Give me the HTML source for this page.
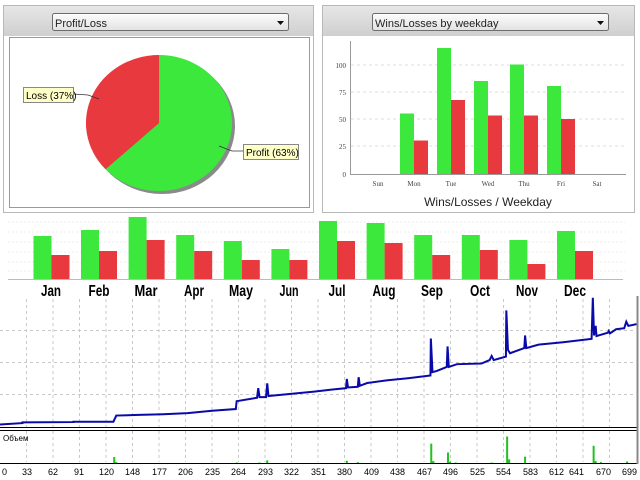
<!DOCTYPE html>
<html><head><style>
html,body{margin:0;padding:0;background:#fff;}
svg{display:block;font-family:"Liberation Sans",sans-serif;}
</style></head><body>
<svg width="640" height="480" viewBox="0 0 640 480" xmlns="http://www.w3.org/2000/svg">
<defs>
<linearGradient id="hd" x1="0" y1="0" x2="0" y2="1"><stop offset="0" stop-color="#e6e6e6"/><stop offset="1" stop-color="#cfcfcf"/></linearGradient>
<linearGradient id="dd" x1="0" y1="0" x2="0" y2="1"><stop offset="0" stop-color="#fdfdfd"/><stop offset="1" stop-color="#e2e2e2"/></linearGradient>
</defs>
<rect x="3.5" y="5.5" width="310" height="207" fill="#fff" stroke="#b8b8b8"/>
<rect x="4" y="6" width="309" height="30" fill="url(#hd)"/>
<rect x="52.5" y="13.5" width="236" height="17" rx="2" fill="url(#dd)" stroke="#6d6d6d"/>
<text x="55" y="27" font-size="11" fill="#222">Profit/Loss</text>
<path d="M277 21 h7 l-3.5 4z" fill="#111"/>
<rect x="9.5" y="37.5" width="300" height="170" fill="#fff" stroke="#9a9a9a"/>
<ellipse cx="162" cy="126" rx="73" ry="68" fill="#8a8a8a"/>
<path d="M159 123 L159 55 A73 68 0 1 1 105.5 169.3 Z" fill="#3de83d"/>
<path d="M159 123 L105.5 169.3 A73 68 0 0 1 159 55 Z" fill="#e8393e"/>
<path d="M73 94 L88 95 L99 99" stroke="#333" fill="none" stroke-width="0.8"/>
<path d="M219 146 L232 151 L243 151" stroke="#333" fill="none" stroke-width="0.8"/>
<rect x="23.5" y="87.5" width="50" height="15" fill="#ffffc8" stroke="#888"/>
<text x="26" y="99" font-size="10" fill="#000">Loss (37%)</text>
<rect x="243.5" y="144.5" width="55" height="15" fill="#ffffc8" stroke="#888"/>
<text x="246" y="156" font-size="10" fill="#000">Profit (63%)</text>
<rect x="322.5" y="5.5" width="312" height="207" fill="#fff" stroke="#b8b8b8"/>
<rect x="323" y="6" width="311" height="30" fill="url(#hd)"/>
<rect x="372.5" y="13.5" width="236" height="17" rx="2" fill="url(#dd)" stroke="#6d6d6d"/>
<text x="375" y="27" font-size="11" fill="#222">Wins/Losses by weekday</text>
<path d="M597 21 h7 l-3.5 4z" fill="#111"/>
<g stroke="#ddd" stroke-dasharray="3,3"><line x1="351" y1="65" x2="626" y2="65"/><line x1="351" y1="92" x2="626" y2="92"/><line x1="351" y1="119" x2="626" y2="119"/><line x1="351" y1="146" x2="626" y2="146"/></g>
<g font-family="Liberation Serif,serif" font-size="7" fill="#444" text-anchor="end"><text x="346" y="177">0</text><text x="346" y="149">25</text><text x="346" y="122">50</text><text x="346" y="95">75</text><text x="346" y="68">100</text></g>
<g fill="#3de83d"><rect x="400" y="113.5" width="14" height="60.5"/><rect x="437" y="48" width="14" height="126"/><rect x="474" y="81" width="14" height="93"/><rect x="510" y="64.5" width="14" height="109.5"/><rect x="547" y="86" width="14" height="88"/></g>
<g fill="#e8393e"><rect x="414" y="140.5" width="14" height="33.5"/><rect x="451" y="100" width="14" height="74"/><rect x="488" y="115.5" width="14" height="58.5"/><rect x="524" y="115.5" width="14" height="58.5"/><rect x="561" y="119" width="14" height="55"/></g>
<path d="M350.5 41 V174.5 H626" fill="none" stroke="#999"/>
<g font-family="Liberation Serif,serif" font-size="7" fill="#444" text-anchor="middle"><text x="378" y="186">Sun</text><text x="414" y="186">Mon</text><text x="451" y="186">Tue</text><text x="488" y="186">Wed</text><text x="524" y="186">Thu</text><text x="561" y="186">Fri</text><text x="597" y="186">Sat</text></g>
<text x="488" y="206" font-size="12" fill="#222" text-anchor="middle">Wins/Losses / Weekday</text>
<g stroke="#eee" stroke-dasharray="2,2"><line x1="8" y1="222" x2="625" y2="222"/><line x1="8" y1="232" x2="625" y2="232"/><line x1="8" y1="242" x2="625" y2="242"/><line x1="8" y1="252" x2="625" y2="252"/><line x1="8" y1="262" x2="625" y2="262"/><line x1="8" y1="271" x2="625" y2="271"/></g>
<g fill="#3de83d">
<rect x="33.5" y="236" width="18" height="43"/><rect x="81" y="230" width="18" height="49"/><rect x="128.6" y="217" width="18" height="62"/><rect x="176.2" y="235" width="18" height="44"/><rect x="223.8" y="241" width="18" height="38"/><rect x="271.4" y="249" width="18" height="30"/><rect x="319" y="221" width="18" height="58"/><rect x="366.6" y="223" width="18" height="56"/><rect x="414.2" y="235" width="18" height="44"/><rect x="461.8" y="235" width="18" height="44"/><rect x="509.4" y="240" width="18" height="39"/><rect x="557" y="231" width="18" height="48"/></g>
<g fill="#e8393e">
<rect x="51.5" y="255" width="18" height="24"/><rect x="99" y="251" width="18" height="28"/><rect x="146.6" y="240" width="18" height="39"/><rect x="194.2" y="251" width="18" height="28"/><rect x="241.8" y="260" width="18" height="19"/><rect x="289.4" y="260" width="18" height="19"/><rect x="337" y="241" width="18" height="38"/><rect x="384.6" y="243" width="18" height="36"/><rect x="432.2" y="255" width="18" height="24"/><rect x="479.8" y="250" width="18" height="29"/><rect x="527.4" y="264" width="18" height="15"/><rect x="575" y="251" width="18" height="28"/></g>
<line x1="8" y1="279.5" x2="623" y2="279.5" stroke="#bbb"/>
<g font-size="16" font-weight="bold" fill="#000" text-anchor="middle" lengthAdjust="spacingAndGlyphs">
<text x="51" y="296" textLength="20" lengthAdjust="spacingAndGlyphs">Jan</text><text x="99" y="296" textLength="21" lengthAdjust="spacingAndGlyphs">Feb</text><text x="146" y="296" textLength="23" lengthAdjust="spacingAndGlyphs">Mar</text><text x="194" y="296" textLength="20" lengthAdjust="spacingAndGlyphs">Apr</text><text x="241" y="296" textLength="24" lengthAdjust="spacingAndGlyphs">May</text><text x="289" y="296" textLength="19" lengthAdjust="spacingAndGlyphs">Jun</text><text x="337" y="296" textLength="17" lengthAdjust="spacingAndGlyphs">Jul</text><text x="384" y="296" textLength="23" lengthAdjust="spacingAndGlyphs">Aug</text><text x="432" y="296" textLength="22" lengthAdjust="spacingAndGlyphs">Sep</text><text x="480" y="296" textLength="20" lengthAdjust="spacingAndGlyphs">Oct</text><text x="527" y="296" textLength="22" lengthAdjust="spacingAndGlyphs">Nov</text><text x="575" y="296" textLength="22" lengthAdjust="spacingAndGlyphs">Dec</text></g>
<g stroke="#c8c8c8" stroke-dasharray="3,3">
<line x1="0" y1="330.5" x2="636" y2="330.5"/><line x1="0" y1="362.5" x2="636" y2="362.5"/><line x1="0" y1="394.5" x2="636" y2="394.5"/>
</g>
<g stroke="#c8c8c8" stroke-dasharray="3,3">
<path d="M26.5 299V427M53 299V427M79.5 299V427M106 299V427M132.5 299V427M159 299V427M185.5 299V427M212 299V427M238.5 299V427M265 299V427M291.5 299V427M318 299V427M344.5 299V427M371 299V427M397.5 299V427M424 299V427M450.5 299V427M477 299V427M503.5 299V427M530 299V427M556.5 299V427M583 299V427M609.5 299V427"/>
<path d="M26.5 431V462M53 431V462M79.5 431V462M106 431V462M132.5 431V462M159 431V462M185.5 431V462M212 431V462M238.5 431V462M265 431V462M291.5 431V462M318 431V462M344.5 431V462M371 431V462M397.5 431V462M424 431V462M450.5 431V462M477 431V462M503.5 431V462M530 431V462M556.5 431V462M583 431V462M609.5 431V462"/>
</g>
<g transform="translate(0,295) scale(0.408,0.3425)">
<polyline vector-effect="non-scaling-stroke" fill="none" stroke="#0a0aa8" stroke-width="2" points="0,378 55,374 55,372 180,371 180,370 278,370 285,352 340,350 400,348 460,345 520,338 578,333 580,310 630,300 633,272 636,298 652,298 655,258 658,295 700,290 770,282 815,276 848,272 850,245 853,270 877,268 879,240 882,265 900,257 950,249 1000,243 1055,235 1056,127 1060,225 1070,222 1095,210 1097,150 1100,210 1120,202 1180,200 1200,190 1205,178 1210,190 1240,180 1241,45 1245,160 1250,170 1285,155 1287,118 1290,155 1320,145 1380,138 1450,128 1453,8 1456,118 1460,90 1462,120 1490,110 1492,105 1495,112 1510,100 1530,97 1535,78 1540,90 1560,85"/>
<path vector-effect="non-scaling-stroke" stroke="#22c022" stroke-width="2" d="M280 492V473M285 492V488M580 492V489M636 492V489M655 492V483M850 492V484M877 492V488M1057 492V434M1062 492V485M1098 492V460M1103 492V487M1117 492V489M1205 492V489M1243 492V413M1248 492V480M1287 492V472M1455 492V440M1460 492V485M1473 492V488M1537 492V486"/>
</g>
<line x1="0" y1="427.5" x2="637" y2="427.5" stroke="#000"/>
<line x1="0" y1="430.5" x2="637" y2="430.5" stroke="#000"/>
<line x1="0" y1="463.5" x2="637" y2="463.5" stroke="#000"/>
<line x1="637.5" y1="296" x2="637.5" y2="464" stroke="#888" stroke-width="2"/>
<text x="3" y="441" font-size="8" fill="#000">Объем</text>
<g font-size="9" fill="#000" text-anchor="end">
<text x="7" y="475">0</text><text x="32" y="475">33</text><text x="58" y="475">62</text><text x="84" y="475">91</text><text x="114" y="475">120</text><text x="140" y="475">148</text><text x="167" y="475">177</text><text x="193" y="475">206</text><text x="220" y="475">235</text><text x="246" y="475">264</text><text x="273" y="475">293</text><text x="299" y="475">322</text><text x="326" y="475">351</text><text x="352" y="475">380</text><text x="379" y="475">409</text><text x="405" y="475">438</text><text x="432" y="475">467</text><text x="458" y="475">496</text><text x="485" y="475">525</text><text x="511" y="475">554</text><text x="538" y="475">583</text><text x="564" y="475">612</text><text x="584" y="475">641</text><text x="611" y="475">670</text><text x="637" y="475">699</text>
</g>
</svg>
</body></html>
